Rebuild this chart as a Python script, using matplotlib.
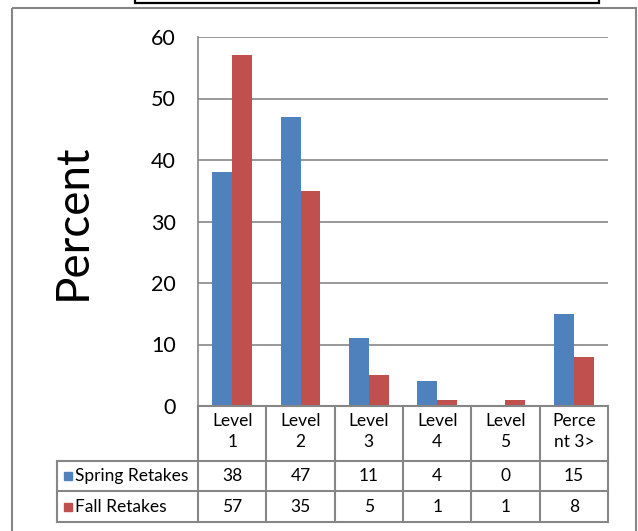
import matplotlib
matplotlib.use("Agg")
import matplotlib.pyplot as plt
from matplotlib.patches import Rectangle
from matplotlib.lines import Line2D

plt.rcParams['font.family'] = ['Lato', 'DejaVu Sans']

categories = ["Level\n1", "Level\n2", "Level\n3", "Level\n4", "Level\n5", "Perce\nnt 3>"]
series_names = ["Spring Retakes", "Fall Retakes"]
spring = [38, 47, 11, 4, 0, 15]
fall = [57, 35, 5, 1, 1, 8]
y_ticks = [0, 10, 20, 30, 40, 50, 60]

BLUE = "#4F81BD"
RED = "#C0504D"
GRID = "#868686"

W, H = 638, 531
fig = plt.figure(figsize=(W / 100, H / 100), dpi=100)

# plot area in pixel coordinates
px_left, px_right, px_top, px_zero = 198, 608, 37, 406
ax = fig.add_axes([px_left / W, (H - px_zero) / H,
                   (px_right - px_left) / W, (px_zero - px_top) / H])
n = len(categories)
xs = list(range(n))
bw = 0.29
ax.bar([x - bw / 2 for x in xs], spring, width=bw, color=BLUE, zorder=3)
ax.bar([x + bw / 2 for x in xs], fall, width=bw, color=RED, zorder=3)
ax.set_xlim(-0.5, n - 0.5)
ax.set_ylim(0, 60)
ax.set_yticks(y_ticks)
ax.set_yticklabels([str(t) for t in y_ticks], fontsize=15.5)
ax.tick_params(axis='y', length=0, pad=16)
ax.set_xticks([])
ax.yaxis.grid(True, color=GRID, linewidth=1.2, zorder=0)
for s in ["top", "right", "bottom"]:
    ax.spines[s].set_visible(False)
ax.spines["left"].set_color(GRID)
ax.spines["left"].set_linewidth(1.2)
ax.set_ylabel("Percent", fontsize=33)
ax.yaxis.set_label_coords(-(px_left - 94) / (px_right - px_left), 0.5)

# overlay in pixel coordinates for the data table and frames
ov = fig.add_axes([0, 0, 1, 1], zorder=5)
ov.set_xlim(0, W)
ov.set_ylim(H, 0)
ov.axis("off")
ov.patch.set_alpha(0)

def hline(x0, x1, y, color=GRID, lw=1.5):
    ov.add_line(Line2D([x0, x1], [y, y], color=color, lw=lw))

def vline(x, y0, y1, color=GRID, lw=1.5):
    ov.add_line(Line2D([x, x], [y0, y1], color=color, lw=lw))

col_w = (px_right - px_left) / n
cols = [px_left + i * col_w for i in range(n + 1)]
head_top, head_bot, row1_bot, row2_bot = 406, 461, 491, 522
table_left = 57

hline(px_left, px_right, head_top)
hline(table_left, px_right, head_bot)
hline(table_left, px_right, row1_bot)
hline(table_left, px_right, row2_bot)
for c in cols:
    vline(c, head_top, row2_bot)
vline(table_left, head_bot, row2_bot)

FS = 12.5
for i, lab in enumerate(categories):
    cx = (cols[i] + cols[i + 1]) / 2
    top, bot = lab.split("\n")
    ov.text(cx, 421, top, ha="center", va="center", fontsize=FS)
    ov.text(cx, 442, bot, ha="center", va="center", fontsize=FS)

rows = [(series_names[0], spring, BLUE, (head_bot + row1_bot) / 2),
        (series_names[1], fall, RED, (row1_bot + row2_bot) / 2)]
for name, vals, color, cy in rows:
    ov.add_patch(Rectangle((64, cy - 4), 8, 8, color=color))
    ov.text(75, cy, name, ha="left", va="center", fontsize=FS)
    for i, v in enumerate(vals):
        cx = (cols[i] + cols[i + 1]) / 2
        ov.text(cx, cy, str(v), ha="center", va="center", fontsize=FS)

# outer chart frame and the box above it
ov.add_patch(Rectangle((12, 8), 624, 540, fill=False, edgecolor=GRID, lw=1.5))
ov.add_patch(Rectangle((135, -10), 464, 12.5, fill=False, edgecolor="black", lw=1.6))

fig.savefig("out.png", dpi=100)
